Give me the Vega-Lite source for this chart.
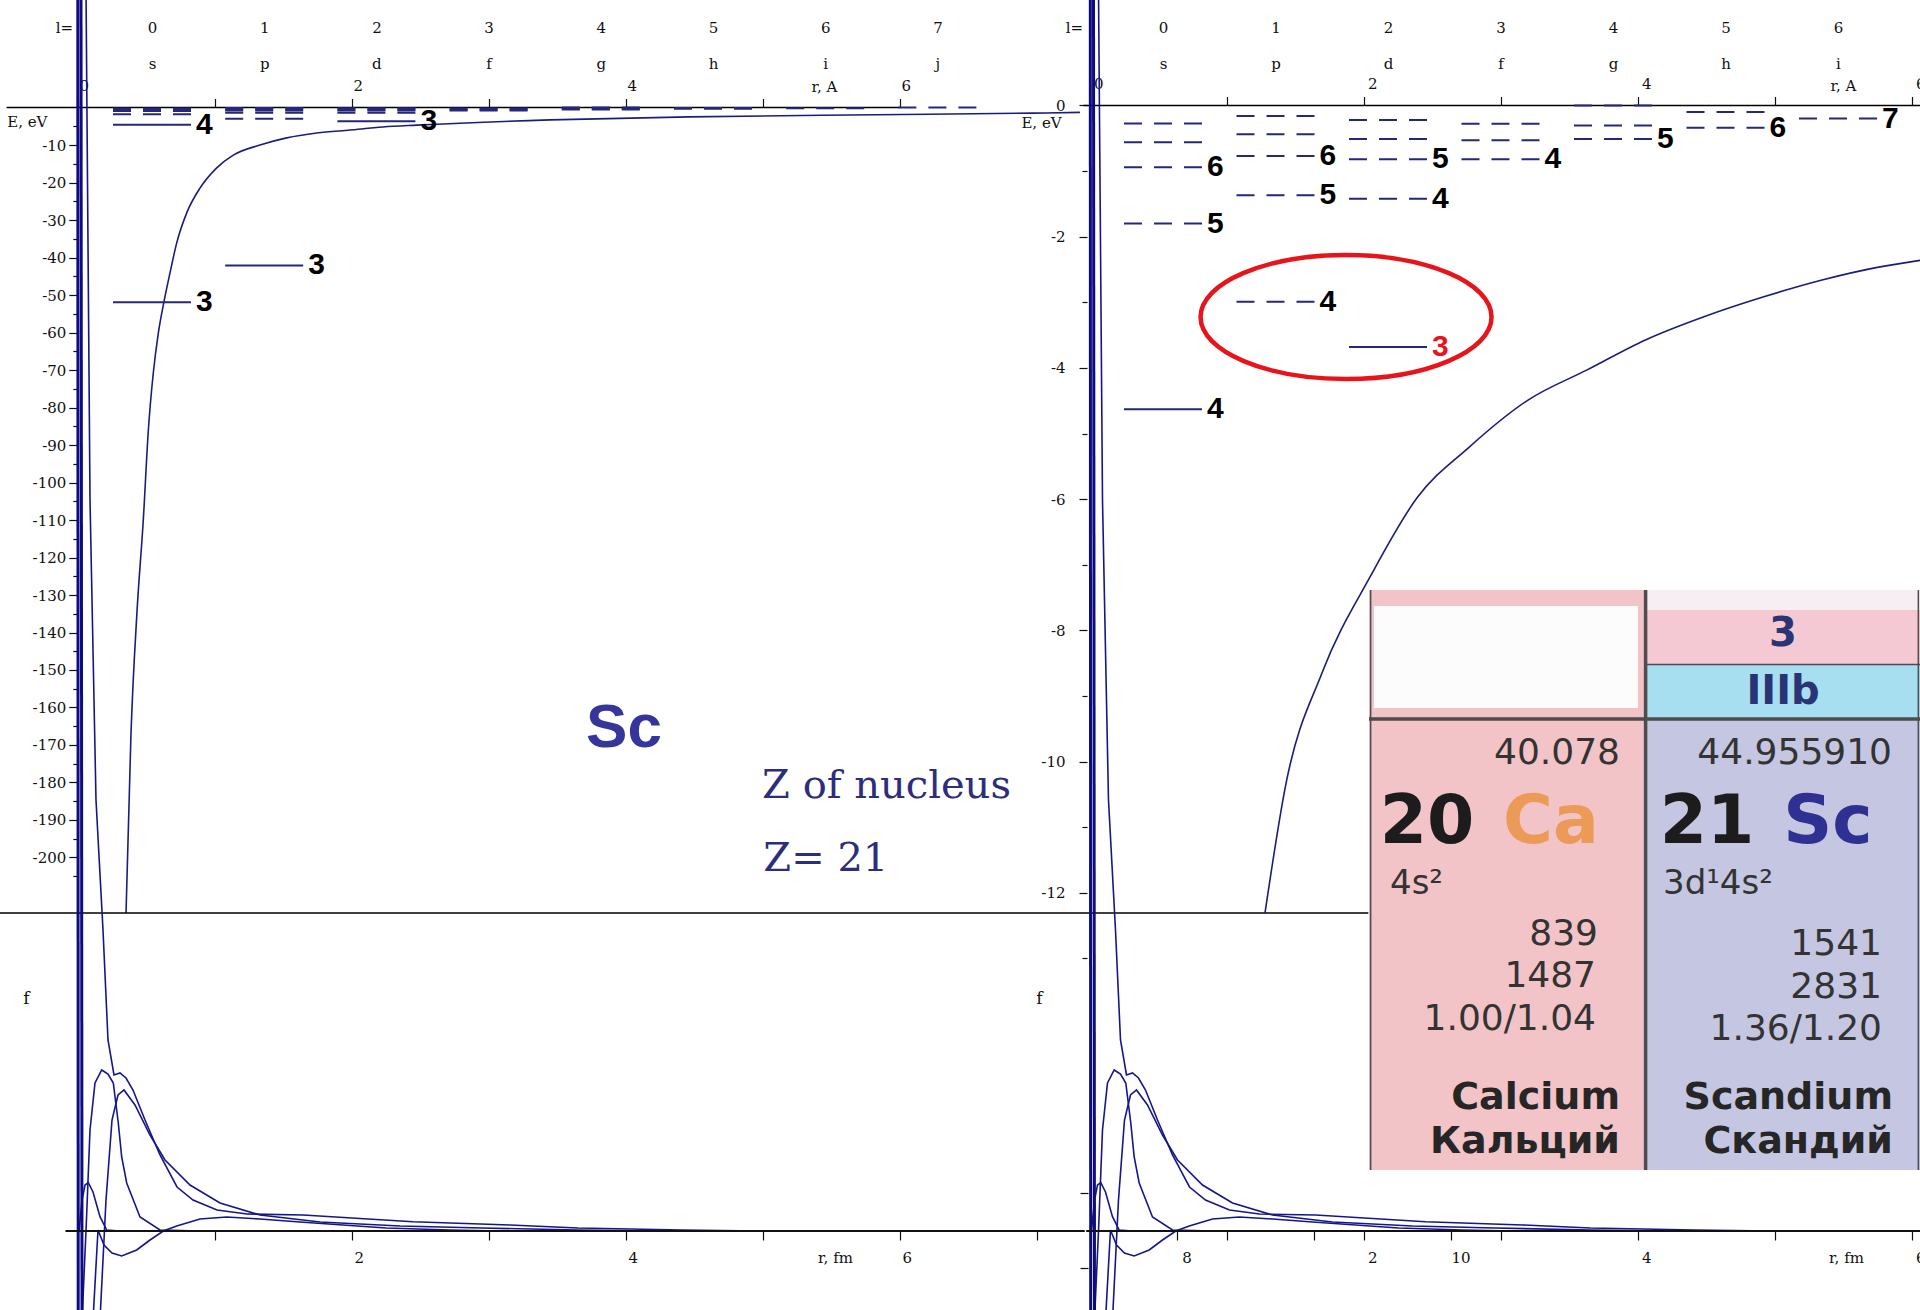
{
  "$schema": "https://vega.github.io/schema/vega-lite/v6.json",
  "width": 1920,
  "height": 1310,
  "autosize": {"type": "none"},
  "padding": 0,
  "background": "white",
  "config": {
    "view": {"stroke": null},
    "axis": {"labelFont": "DejaVu Serif", "titleFont": "DejaVu Serif", "labelFontSize": 15, "titleFontSize": 15, "titleFontWeight": "normal", "labelColor": "#111111", "titleColor": "#111111", "tickColor": "#111111", "domainColor": "#111111", "grid": false, "labelFlush": false, "labelOverlap": false, "tickWidth": 1.2}
  },
  "datasets": {
    "tl_potential": [
      {"r": 0.352, "E": -214.8}, {"r": 0.388, "E": -167.3}, {"r": 0.432, "E": -134.5}, {"r": 0.478, "E": -110.0},
      {"r": 0.515, "E": -86.0}, {"r": 0.551, "E": -70.8}, {"r": 0.588, "E": -60.1}, {"r": 0.624, "E": -52.7},
      {"r": 0.673, "E": -44.1}, {"r": 0.722, "E": -36.1}, {"r": 0.795, "E": -28.1}, {"r": 0.892, "E": -21.5},
      {"r": 1.014, "E": -16.1}, {"r": 1.135, "E": -12.7}, {"r": 1.33, "E": -10.0}, {"r": 1.525, "E": -8.1},
      {"r": 1.744, "E": -6.8}, {"r": 1.987, "E": -6.0}, {"r": 2.228, "E": -5.2}, {"r": 2.474, "E": -4.7},
      {"r": 3.447, "E": -3.3}, {"r": 4.462, "E": -2.5}, {"r": 5.636, "E": -2.0}, {"r": 6.972, "E": -1.5}, {"r": 7.315, "E": -1.3}
    ],
    "tr_potential": [
      {"r": 1.275, "E": -12.31}, {"r": 1.428, "E": -10.34}, {"r": 1.691, "E": -8.65}, {"r": 2.049, "E": -7.16},
      {"r": 2.385, "E": -5.98}, {"r": 2.764, "E": -5.21}, {"r": 3.195, "E": -4.49}, {"r": 3.626, "E": -4.03},
      {"r": 4.056, "E": -3.57}, {"r": 4.479, "E": -3.22}, {"r": 4.91, "E": -2.92}, {"r": 5.341, "E": -2.66},
      {"r": 5.764, "E": -2.46}, {"r": 6.056, "E": -2.36}
    ],
    "tl_levels": [
      {"l": 0, "n": 8, "E": -0.275, "state": "empty", "label": ""},
      {"l": 0, "n": 7, "E": -0.56, "state": "empty", "label": ""},
      {"l": 0, "n": 6, "E": -0.94, "state": "empty", "label": ""},
      {"l": 0, "n": 5, "E": -1.8, "state": "empty", "label": ""},
      {"l": 0, "n": 4, "E": -4.63, "state": "occupied", "label": "4"},
      {"l": 0, "n": 3, "E": -51.9, "state": "occupied", "label": "3"},
      {"l": 1, "n": 8, "E": -0.16, "state": "empty", "label": ""},
      {"l": 1, "n": 7, "E": -0.44, "state": "empty", "label": ""},
      {"l": 1, "n": 6, "E": -0.77, "state": "empty", "label": ""},
      {"l": 1, "n": 5, "E": -1.37, "state": "empty", "label": ""},
      {"l": 1, "n": 4, "E": -2.99, "state": "empty", "label": ""},
      {"l": 1, "n": 3, "E": -42.1, "state": "occupied", "label": "3"},
      {"l": 2, "n": 7, "E": -0.22, "state": "empty", "label": ""},
      {"l": 2, "n": 6, "E": -0.51, "state": "empty", "label": ""},
      {"l": 2, "n": 5, "E": -0.82, "state": "empty", "label": ""},
      {"l": 2, "n": 4, "E": -1.42, "state": "empty", "label": ""},
      {"l": 2, "n": 3, "E": -3.68, "state": "occupied", "label": "3"},
      {"l": 3, "n": 6, "E": -0.28, "state": "empty", "label": ""},
      {"l": 3, "n": 5, "E": -0.53, "state": "empty", "label": ""},
      {"l": 3, "n": 4, "E": -0.82, "state": "empty", "label": ""},
      {"l": 4, "n": 7, "E": 0.0, "state": "empty", "label": ""},
      {"l": 4, "n": 6, "E": -0.305, "state": "empty", "label": ""},
      {"l": 4, "n": 5, "E": -0.51, "state": "empty", "label": ""},
      {"l": 5, "n": 7, "E": -0.1, "state": "empty", "label": ""},
      {"l": 5, "n": 6, "E": -0.34, "state": "empty", "label": ""},
      {"l": 6, "n": 7, "E": -0.2, "state": "empty", "label": ""},
      {"l": 7, "n": 8, "E": 0.0, "state": "empty", "label": ""}
    ],
    "tr_levels": [
      {"l": 0, "n": 8, "E": -0.275, "state": "empty", "label": ""},
      {"l": 0, "n": 7, "E": -0.56, "state": "empty", "label": ""},
      {"l": 0, "n": 6, "E": -0.94, "state": "empty", "label": "6"},
      {"l": 0, "n": 5, "E": -1.8, "state": "empty", "label": "5"},
      {"l": 0, "n": 4, "E": -4.63, "state": "occupied", "label": "4"},
      {"l": 1, "n": 8, "E": -0.16, "state": "empty", "label": ""},
      {"l": 1, "n": 7, "E": -0.44, "state": "empty", "label": ""},
      {"l": 1, "n": 6, "E": -0.77, "state": "empty", "label": "6"},
      {"l": 1, "n": 5, "E": -1.37, "state": "empty", "label": "5"},
      {"l": 1, "n": 4, "E": -2.99, "state": "empty", "label": "4"},
      {"l": 2, "n": 7, "E": -0.22, "state": "empty", "label": ""},
      {"l": 2, "n": 6, "E": -0.51, "state": "empty", "label": ""},
      {"l": 2, "n": 5, "E": -0.82, "state": "empty", "label": "5"},
      {"l": 2, "n": 4, "E": -1.42, "state": "empty", "label": "4"},
      {"l": 2, "n": 3, "E": -3.68, "state": "occupied", "label": "3"},
      {"l": 3, "n": 6, "E": -0.28, "state": "empty", "label": ""},
      {"l": 3, "n": 5, "E": -0.53, "state": "empty", "label": ""},
      {"l": 3, "n": 4, "E": -0.82, "state": "empty", "label": "4"},
      {"l": 4, "n": 7, "E": 0.0, "state": "empty", "label": ""},
      {"l": 4, "n": 6, "E": -0.305, "state": "empty", "label": ""},
      {"l": 4, "n": 5, "E": -0.51, "state": "empty", "label": "5"},
      {"l": 5, "n": 7, "E": -0.1, "state": "empty", "label": ""},
      {"l": 5, "n": 6, "E": -0.34, "state": "empty", "label": "6"},
      {"l": 6, "n": 7, "E": -0.2, "state": "empty", "label": "7"}
    ],
    "wf": [
      {"curve": "A", "r": 0.0088, "f": 0}, {"curve": "A", "r": 0.0307, "f": 0.31}, {"curve": "A", "r": 0.0526, "f": 0.46},
      {"curve": "A", "r": 0.0766, "f": 0.483}, {"curve": "A", "r": 0.111, "f": 0.39}, {"curve": "A", "r": 0.162, "f": 0.143},
      {"curve": "A", "r": 0.211, "f": 0.01}, {"curve": "A", "r": 0.308, "f": 0},
      {"curve": "B", "r": 0.0307, "f": -0.89}, {"curve": "B", "r": 0.0599, "f": 0}, {"curve": "B", "r": 0.0891, "f": 1.01},
      {"curve": "B", "r": 0.1255, "f": 1.48}, {"curve": "B", "r": 0.1745, "f": 1.61}, {"curve": "B", "r": 0.2204, "f": 1.57},
      {"curve": "B", "r": 0.2591, "f": 1.48}, {"curve": "B", "r": 0.2956, "f": 1.08}, {"curve": "B", "r": 0.3204, "f": 0.74},
      {"curve": "B", "r": 0.3569, "f": 0.48}, {"curve": "B", "r": 0.454, "f": 0.14}, {"curve": "B", "r": 0.6, "f": 0.01},
      {"curve": "B", "r": 0.892, "f": 0},
      {"curve": "C", "r": 0.0599, "f": 12.41}, {"curve": "C", "r": 0.0891, "f": 7.31}, {"curve": "C", "r": 0.1328, "f": 4.31},
      {"curve": "C", "r": 0.1839, "f": 3.01}, {"curve": "C", "r": 0.2204, "f": 1.91}, {"curve": "C", "r": 0.2642, "f": 1.56},
      {"curve": "C", "r": 0.308, "f": 1.58}, {"curve": "C", "r": 0.3518, "f": 1.53}, {"curve": "C", "r": 0.4029, "f": 1.41},
      {"curve": "C", "r": 0.4905, "f": 1.11}, {"curve": "C", "r": 0.6, "f": 0.76}, {"curve": "C", "r": 0.7241, "f": 0.44},
      {"curve": "C", "r": 0.8409, "f": 0.31}, {"curve": "C", "r": 1.016, "f": 0.21}, {"curve": "C", "r": 1.235, "f": 0.17},
      {"curve": "C", "r": 1.644, "f": 0.16}, {"curve": "C", "r": 2.447, "f": 0.093}, {"curve": "C", "r": 3.155, "f": 0.06},
      {"curve": "C", "r": 3.651, "f": 0.03}, {"curve": "C", "r": 4.41, "f": 0.01}, {"curve": "C", "r": 4.98, "f": 0},
      {"curve": "D", "r": 0.162, "f": -0.89}, {"curve": "D", "r": 0.2058, "f": 0.31}, {"curve": "D", "r": 0.2496, "f": 1.11},
      {"curve": "D", "r": 0.2934, "f": 1.36}, {"curve": "D", "r": 0.3372, "f": 1.41}, {"curve": "D", "r": 0.4175, "f": 1.26},
      {"curve": "D", "r": 0.527, "f": 0.96}, {"curve": "D", "r": 0.6365, "f": 0.71}, {"curve": "D", "r": 0.819, "f": 0.46},
      {"curve": "D", "r": 1.038, "f": 0.28}, {"curve": "D", "r": 1.33, "f": 0.16}, {"curve": "D", "r": 1.768, "f": 0.09},
      {"curve": "D", "r": 2.352, "f": 0.05}, {"curve": "D", "r": 2.95, "f": 0.03}, {"curve": "D", "r": 3.651, "f": 0.01},
      {"curve": "D", "r": 4.177, "f": 0},
      {"curve": "E", "r": 0.111, "f": -0.89}, {"curve": "E", "r": 0.1474, "f": 0.01}, {"curve": "E", "r": 0.1912, "f": -0.14},
      {"curve": "E", "r": 0.2496, "f": -0.22}, {"curve": "E", "r": 0.3204, "f": -0.25}, {"curve": "E", "r": 0.4299, "f": -0.19},
      {"curve": "E", "r": 0.527, "f": -0.09}, {"curve": "E", "r": 0.6241, "f": 0}, {"curve": "E", "r": 0.7219, "f": 0.05},
      {"curve": "E", "r": 0.892, "f": 0.12}, {"curve": "E", "r": 1.087, "f": 0.14}, {"curve": "E", "r": 1.33, "f": 0.12},
      {"curve": "E", "r": 1.622, "f": 0.09}, {"curve": "E", "r": 2.25, "f": 0.03}, {"curve": "E", "r": 2.717, "f": 0.01},
      {"curve": "E", "r": 3.082, "f": 0}
    ],
    "wf_core": [
      {"curve": "core1", "r": 0.0, "f": 12.41}, {"curve": "core1", "r": 0.003, "f": -0.89},
      {"curve": "core2", "r": 0.0234, "f": 12.41}, {"curve": "core2", "r": 0.0307, "f": -0.89}
    ],
    "annotations": [
      {"kind": "element", "text": "Sc", "r": 3.987, "E": -165.6},
      {"kind": "caption", "text": "Z of nucleus", "r": 5.903, "E": -180.9},
      {"kind": "caption", "text": "Z= 21", "r": 5.46, "E": -200.3}
    ],
    "cells": [
      {"part": "Ca body", "u0": 0, "u1": 0.502, "v0": 0, "v1": 1},
      {"part": "Ca header", "u0": 0.009, "u1": 0.488, "v0": 0.0276, "v1": 0.2034},
      {"part": "Sc top", "u0": 0.502, "u1": 1, "v0": 0, "v1": 0.0345},
      {"part": "Sc group", "u0": 0.502, "u1": 1, "v0": 0.0345, "v1": 0.1285},
      {"part": "Sc subgroup", "u0": 0.502, "u1": 1, "v0": 0.1285, "v1": 0.2224},
      {"part": "Sc body", "u0": 0.502, "u1": 1, "v0": 0.2224, "v1": 1}
    ],
    "borders": [
      {"u0": 0, "u1": 1, "v0": 0.2224, "v1": 0.2224, "weight": "thick"},
      {"u0": 0.502, "u1": 1, "v0": 0.1285, "v1": 0.1285, "weight": "thin"},
      {"u0": 0.502, "u1": 0.502, "v0": 0, "v1": 1, "weight": "thick"},
      {"u0": 0.003, "u1": 0.003, "v0": 0, "v1": 1, "weight": "thin"},
      {"u0": 0.997, "u1": 0.997, "v0": 0, "v1": 1, "weight": "thin"}
    ],
    "inset_text": [
      {"elem": "Sc", "role": "header", "text": "3", "u": 0.7514, "v": 0.0759},
      {"elem": "Sc", "role": "header", "text": "IIIb", "u": 0.7514, "v": 0.1759},
      {"elem": "Ca", "role": "mass", "text": "40.078", "u": 0.4555, "v": 0.281},
      {"elem": "Sc", "role": "mass", "text": "44.955910", "u": 0.9492, "v": 0.281},
      {"elem": "Ca", "role": "number", "text": "20", "u": 0.1053, "v": 0.4017},
      {"elem": "Sc", "role": "number", "text": "21", "u": 0.6134, "v": 0.4017},
      {"elem": "Ca", "role": "symbol", "text": "Ca", "u": 0.3303, "v": 0.4017},
      {"elem": "Sc", "role": "symbol", "text": "Sc", "u": 0.833, "v": 0.4017},
      {"elem": "Ca", "role": "config", "text": "4s²", "u": 0.0381, "v": 0.5069},
      {"elem": "Sc", "role": "config", "text": "3d¹4s²", "u": 0.5336, "v": 0.5069},
      {"elem": "Ca", "role": "prop", "text": "839", "u": 0.4156, "v": 0.5931},
      {"elem": "Ca", "role": "prop", "text": "1487", "u": 0.412, "v": 0.6655},
      {"elem": "Ca", "role": "prop", "text": "1.00/1.04", "u": 0.412, "v": 0.7397},
      {"elem": "Sc", "role": "prop", "text": "1541", "u": 0.931, "v": 0.6103},
      {"elem": "Sc", "role": "prop", "text": "2831", "u": 0.931, "v": 0.6845},
      {"elem": "Sc", "role": "prop", "text": "1.36/1.20", "u": 0.931, "v": 0.7569},
      {"elem": "Ca", "role": "name", "text": "Calcium", "u": 0.4555, "v": 0.8759},
      {"elem": "Ca", "role": "name", "text": "Кальций", "u": 0.4555, "v": 0.9517},
      {"elem": "Sc", "role": "name", "text": "Scandium", "u": 0.951, "v": 0.8759},
      {"elem": "Sc", "role": "name", "text": "Скандий", "u": 0.951, "v": 0.9517}
    ]
  },
  "layer": [
    {
      "layer": [
        {
          "data": {"name": "tl_potential"},
          "mark": {"type": "line", "color": "#1c1c7c", "strokeWidth": 1.6, "interpolate": "monotone"},
          "encoding": {
            "x": {"field": "r", "type": "quantitative", "scale": {"domain": [-0.5679, 13.4467], "nice": false, "zero": false},
              "axis": {"orient": "top", "offset": -107.5, "values": [0, 1, 2, 3, 4, 5, 6], "format": "d", "labelExpr": "datum.value % 2 == 0 ? datum.label : ''", "tickSize": 9, "labelPadding": 5, "labelOffset": 6, "labelFontSize": 15, "labelOverlap": false, "domain": false, "title": "r, A", "titleX": 824, "titleY": -21, "titleAngle": 0, "titleAlign": "center", "titleBaseline": "middle"}},
            "y": {"field": "E", "type": "quantitative", "scale": {"domain": [-320.67, 28.67], "nice": false, "zero": false},
              "axis": {"orient": "left", "offset": -77.8, "values": [-200, -190, -180, -170, -160, -150, -140, -130, -120, -110, -100, -90, -80, -70, -60, -50, -40, -30, -20, -10], "labelExpr": "'-' + (-datum.value)", "tickSize": 9, "labelPadding": 3, "labelFontSize": 15, "labelOverlap": false, "domain": false, "title": "E, eV", "titleX": -51, "titleY": 121, "titleAngle": 0, "titleAlign": "center", "titleBaseline": "middle"}}
          }
        },
        {
          "data": {"values": [{}]},
          "mark": {"type": "rule", "color": "#000000", "strokeWidth": 1.5},
          "encoding": {
            "x": {"datum": -0.52, "type": "quantitative", "scale": {"domain": [-0.5679, 13.4467], "nice": false, "zero": false}},
            "x2": {"datum": 6.0},
            "y": {"datum": 0, "type": "quantitative", "scale": {"domain": [-320.67, 28.67], "nice": false, "zero": false}}
          }
        },
        {
          "data": {"values": [{}]},
          "mark": {"type": "rule", "color": "#000000", "strokeWidth": 1.5},
          "encoding": {
            "x": {"datum": -0.57, "type": "quantitative", "scale": {"domain": [-0.5679, 13.4467], "nice": false, "zero": false}},
            "x2": {"datum": 9.42},
            "y": {"datum": -214.8, "type": "quantitative", "scale": {"domain": [-320.67, 28.67], "nice": false, "zero": false}}
          }
        },
        {
          "data": {"name": "annotations"},
          "transform": [{"filter": "datum.kind == 'element'"}],
          "mark": {"type": "text", "font": "Liberation Sans", "fontWeight": "bold", "fontSize": 62, "color": "#35359b", "align": "center", "baseline": "middle"},
          "encoding": {
            "x": {"field": "r", "type": "quantitative", "scale": {"domain": [-0.5679, 13.4467], "nice": false, "zero": false}},
            "y": {"field": "E", "type": "quantitative", "scale": {"domain": [-320.67, 28.67], "nice": false, "zero": false}},
            "text": {"field": "text"}
          }
        },
        {
          "data": {"name": "annotations"},
          "transform": [{"filter": "datum.kind == 'caption'"}],
          "mark": {"type": "text", "font": "DejaVu Serif", "fontSize": 40, "color": "#2d2d7d", "align": "center", "baseline": "middle"},
          "encoding": {
            "x": {"field": "r", "type": "quantitative", "scale": {"domain": [-0.5679, 13.4467], "nice": false, "zero": false}},
            "y": {"field": "E", "type": "quantitative", "scale": {"domain": [-320.67, 28.67], "nice": false, "zero": false}},
            "text": {"field": "text"}
          }
        }
      ]
    },
    {
      "data": {"name": "tl_levels"},
      "layer": [
        {
          "mark": {"type": "point", "shape": "M -1 0 L 1 0", "size": 6084, "filled": false, "strokeWidth": 2, "opacity": 1, "color": "#26267a"},
          "encoding": {
            "x": {"field": "l", "type": "quantitative", "scale": {"domain": [-1.3547, 15.7576], "nice": false, "zero": false},
              "axis": {"orient": "top", "offset": -107.5, "values": [0, 1, 2, 3, 4, 5, 6, 7], "format": "d", "ticks": false, "tickSize": 0, "domain": false, "labelExpr": "[datum.label, ['s','p','d','f','g','h','i','j'][datum.value]]", "labelLineHeight": 36, "labelBaseline": "middle", "labelPadding": 80.5, "labelFontSize": 15, "labelOverlap": false, "title": "l=", "titleX": 64, "titleY": -80.5, "titleAngle": 0, "titleAlign": "center", "titleBaseline": "middle"}},
            "y": {"field": "E", "type": "quantitative", "scale": {"domain": [-320.67, 28.67], "nice": false, "zero": false},
              "axis": {"orient": "left", "offset": -77.8, "values": [-205, -195, -185, -175, -165, -155, -145, -135, -125, -115, -105, -95, -85, -75, -65, -55, -45, -35, -25, -15, -5], "tickSize": 5, "labels": false, "domain": false, "title": null}},
            "strokeDash": {"field": "state", "type": "nominal", "scale": {"domain": ["occupied", "empty"], "range": [[1, 0], [18, 12]]}, "legend": null}
          }
        },
        {
          "mark": {"type": "text", "align": "left", "baseline": "middle", "dx": 44, "font": "Liberation Sans", "fontWeight": "bold", "fontSize": 30, "color": "#000000"},
          "encoding": {
            "x": {"field": "l", "type": "quantitative", "scale": {"domain": [-1.3547, 15.7576], "nice": false, "zero": false}},
            "y": {"field": "E", "type": "quantitative", "scale": {"domain": [-320.67, 28.67], "nice": false, "zero": false}},
            "text": {"field": "label"}
          }
        }
      ]
    },
    {
      "layer": [
        {
          "data": {"name": "tr_potential"},
          "mark": {"type": "line", "color": "#1c1c7c", "strokeWidth": 1.6, "interpolate": "monotone"},
          "encoding": {
            "x": {"field": "r", "type": "quantitative", "scale": {"domain": [-7.958, 6.056], "nice": false, "zero": false},
              "axis": {"orient": "top", "offset": -105.5, "values": [0, 1, 2, 3, 4, 5, 6], "format": "d", "labelExpr": "datum.value % 2 == 0 ? datum.label : ''", "tickSize": 9, "labelPadding": 5, "labelOffset": 8, "labelFontSize": 15, "labelOverlap": false, "domain": false, "title": "r, A", "titleX": 1843, "titleY": -20, "titleAngle": 0, "titleAlign": "center", "titleBaseline": "middle"}},
            "y": {"field": "E", "type": "quantitative", "scale": {"domain": [-18.36, 1.608], "nice": false, "zero": false},
              "axis": {"orient": "left", "offset": -1087, "values": [-13, -12, -11, -10, -9, -8, -7, -6, -5, -4, -3, -2, -1, 0], "labelExpr": "datum.value % 2 == 0 ? (datum.value == 0 ? '0' : '-' + (-datum.value)) : ''", "tickSize": {"condition": {"test": "datum.value % 2 == 0", "value": 8}, "value": 5}, "labelPadding": 14, "labelFontSize": 15, "labelOverlap": false, "domain": false, "title": "E, eV", "titleX": -46, "titleY": 122, "titleAngle": 0, "titleAlign": "center", "titleBaseline": "middle"}}
          }
        },
        {
          "data": {"values": [{}]},
          "mark": {"type": "rule", "color": "#000000", "strokeWidth": 1.5},
          "encoding": {
            "x": {"datum": -0.05, "type": "quantitative", "scale": {"domain": [-7.958, 6.056], "nice": false, "zero": false}},
            "x2": {"datum": 6.2},
            "y": {"datum": 0, "type": "quantitative", "scale": {"domain": [-18.36, 1.608], "nice": false, "zero": false}}
          }
        }
      ]
    },
    {
      "layer": [
        {
          "data": {"name": "tr_levels"},
          "mark": {"type": "point", "shape": "M -1 0 L 1 0", "size": 6084, "filled": false, "strokeWidth": 2, "opacity": 1, "color": "#26267a"},
          "encoding": {
            "x": {"field": "l", "type": "quantitative", "scale": {"domain": [-10.3378, 6.7289], "nice": false, "zero": false},
              "axis": {"orient": "top", "offset": -105.5, "values": [0, 1, 2, 3, 4, 5, 6], "format": "d", "ticks": false, "tickSize": 0, "domain": false, "labelExpr": "[datum.label, ['s','p','d','f','g','h','i','j'][datum.value]]", "labelLineHeight": 36, "labelBaseline": "middle", "labelPadding": 78.5, "labelFontSize": 15, "labelOverlap": false, "title": "l=", "titleX": 1074, "titleY": -78.5, "titleAngle": 0, "titleAlign": "center", "titleBaseline": "middle"}},
            "y": {"field": "E", "type": "quantitative", "scale": {"domain": [-18.36, 1.608], "nice": false, "zero": false}, "axis": null},
            "strokeDash": {"field": "state", "type": "nominal", "scale": {"domain": ["occupied", "empty"], "range": [[1, 0], [18, 12]]}, "legend": null}
          }
        },
        {
          "data": {"name": "tr_levels"},
          "mark": {"type": "text", "align": "left", "baseline": "middle", "dx": 44, "font": "Liberation Sans", "fontWeight": "bold", "fontSize": 30},
          "encoding": {
            "x": {"field": "l", "type": "quantitative", "scale": {"domain": [-10.3378, 6.7289], "nice": false, "zero": false}},
            "y": {"field": "E", "type": "quantitative", "scale": {"domain": [-18.36, 1.608], "nice": false, "zero": false}, "axis": null},
            "text": {"field": "label"},
            "color": {"condition": {"test": "datum.n == 3", "value": "#e8141c"}, "value": "#000000"}
          }
        },
        {
          "data": {"values": [{}]},
          "mark": {"type": "point", "shape": "M -1 0 A 1 0.426 0 1 0 1 0 A 1 0.426 0 1 0 -1 0 Z", "size": 84681, "filled": false, "strokeWidth": 4.5, "opacity": 1, "color": "#e8141c"},
          "encoding": {
            "x": {"datum": 1.627, "type": "quantitative", "scale": {"domain": [-10.3378, 6.7289], "nice": false, "zero": false}},
            "y": {"datum": -3.224, "type": "quantitative", "scale": {"domain": [-18.36, 1.608], "nice": false, "zero": false}, "axis": null}
          }
        }
      ]
    },
    {
      "layer": [
        {
          "data": {"name": "wf"},
          "mark": {"type": "line", "color": "#16168a", "strokeWidth": 1.6},
          "encoding": {
            "x": {"field": "r", "type": "quantitative", "scale": {"domain": [-0.5679, 13.4467], "nice": false, "zero": false},
              "axis": {"orient": "bottom", "offset": -79, "values": [1, 2, 3, 4, 5, 6, 7], "format": "d", "labelExpr": "datum.value % 2 == 0 ? datum.label : ''", "tickSize": 9, "labelPadding": 10, "labelOffset": 7, "labelFontSize": 15, "labelOverlap": false, "domain": false, "title": "r, fm", "titleX": 835, "titleY": 26, "titleAngle": 0, "titleAlign": "center", "titleBaseline": "middle"}},
            "y": {"field": "f", "type": "quantitative", "scale": {"domain": [-0.79, 12.31], "nice": false, "zero": false},
              "axis": {"orient": "left", "offset": -77.8, "ticks": false, "labels": false, "domain": false, "title": "f", "titleX": -52, "titleY": 998, "titleAngle": 0, "titleFontSize": 17, "titleAlign": "center", "titleBaseline": "middle"}},
            "detail": {"field": "curve"}
          }
        },
        {
          "data": {"name": "wf_core"},
          "mark": {"type": "line", "color": "#0c0c80", "strokeWidth": 3},
          "encoding": {
            "x": {"field": "r", "type": "quantitative", "scale": {"domain": [-0.5679, 13.4467], "nice": false, "zero": false}},
            "y": {"field": "f", "type": "quantitative", "scale": {"domain": [-0.79, 12.31], "nice": false, "zero": false}},
            "detail": {"field": "curve"}
          }
        },
        {
          "data": {"values": [{}]},
          "mark": {"type": "rule", "color": "#111111", "strokeWidth": 2},
          "encoding": {
            "x": {"datum": -0.09, "type": "quantitative", "scale": {"domain": [-0.5679, 13.4467], "nice": false, "zero": false}},
            "x2": {"datum": 7.35},
            "y": {"datum": 0, "type": "quantitative", "scale": {"domain": [-0.79, 12.31], "nice": false, "zero": false}}
          }
        }
      ]
    },
    {
      "layer": [
        {
          "data": {"name": "wf"},
          "mark": {"type": "line", "color": "#16168a", "strokeWidth": 1.6},
          "encoding": {
            "x": {"field": "r", "type": "quantitative", "scale": {"domain": [-7.958, 6.056], "nice": false, "zero": false},
              "axis": {"orient": "bottom", "offset": -79, "values": [1, 2, 3, 4, 5, 6], "format": "d", "labelExpr": "datum.value % 2 == 0 ? datum.label : ''", "tickSize": 9, "labelPadding": 10, "labelOffset": 8, "labelFontSize": 15, "labelOverlap": false, "domain": false, "title": "r, fm", "titleX": 1846, "titleY": 26, "titleAngle": 0, "titleAlign": "center", "titleBaseline": "middle"}},
            "y": {"field": "f", "type": "quantitative", "scale": {"domain": [-0.79, 12.31], "nice": false, "zero": false},
              "axis": {"orient": "left", "offset": -1088, "values": [0.38, -0.37], "tickSize": 8, "labels": false, "domain": false, "title": "f", "titleX": -49, "titleY": 998, "titleAngle": 0, "titleFontSize": 17, "titleAlign": "center", "titleBaseline": "middle"}},
            "detail": {"field": "curve"}
          }
        },
        {
          "data": {"name": "wf_core"},
          "mark": {"type": "line", "color": "#0c0c80", "strokeWidth": 3},
          "encoding": {
            "x": {"field": "r", "type": "quantitative", "scale": {"domain": [-7.958, 6.056], "nice": false, "zero": false}},
            "y": {"field": "f", "type": "quantitative", "scale": {"domain": [-0.79, 12.31], "nice": false, "zero": false}},
            "detail": {"field": "curve"}
          }
        },
        {
          "data": {"values": [{}]},
          "mark": {"type": "rule", "color": "#111111", "strokeWidth": 2},
          "encoding": {
            "x": {"datum": -0.03, "type": "quantitative", "scale": {"domain": [-7.958, 6.056], "nice": false, "zero": false}},
            "x2": {"datum": 6.2},
            "y": {"datum": 0, "type": "quantitative", "scale": {"domain": [-0.79, 12.31], "nice": false, "zero": false}}
          }
        }
      ]
    },
    {
      "data": {"values": [{"v": 8}, {"v": 9}, {"v": 10}]},
      "mark": {"type": "rule", "strokeOpacity": 0},
      "encoding": {
        "x": {"field": "v", "type": "quantitative", "scale": {"domain": [-0.5876, 13.427], "nice": false, "zero": false},
          "axis": {"orient": "bottom", "offset": -79, "values": [8, 9, 10], "format": "d", "labelExpr": "datum.value == 9 ? '' : datum.label", "tickSize": 9, "labelPadding": 10, "labelOffset": 10, "labelFontSize": 15, "labelOverlap": false, "domain": false, "title": null}}
      }
    },
    {
      "layer": [
        {
          "data": {"name": "cells"},
          "mark": {"type": "rect"},
          "encoding": {
            "x": {"field": "u0", "type": "quantitative", "scale": {"domain": [-2.4846, 1.0], "nice": false, "zero": false}, "axis": null},
            "x2": {"field": "u1"},
            "y": {"field": "v0", "type": "quantitative", "scale": {"domain": [-1.0172, 1.2414], "nice": false, "zero": false, "reverse": true}, "axis": null},
            "y2": {"field": "v1"},
            "color": {"field": "part", "type": "nominal", "scale": {"domain": ["Ca body", "Ca header", "Sc top", "Sc group", "Sc subgroup", "Sc body"], "range": ["#f2c3c7", "#fdfcfc", "#f7eef3", "#f4c9d3", "#a7def0", "#c4c6e2"]}, "legend": null}
          }
        },
        {
          "data": {"name": "borders"},
          "mark": {"type": "rule", "color": "#4d4d4d"},
          "encoding": {
            "x": {"field": "u0", "type": "quantitative", "scale": {"domain": [-2.4846, 1.0], "nice": false, "zero": false}, "axis": null},
            "x2": {"field": "u1"},
            "y": {"field": "v0", "type": "quantitative", "scale": {"domain": [-1.0172, 1.2414], "nice": false, "zero": false, "reverse": true}, "axis": null},
            "y2": {"field": "v1"},
            "strokeWidth": {"field": "weight", "type": "nominal", "scale": {"domain": ["thick", "thin"], "range": [3.5, 1.5]}, "legend": null}
          }
        },
        {
          "data": {"name": "inset_text"},
          "transform": [{"filter": "datum.role == 'header'"}],
          "mark": {"type": "text", "font": "DejaVu Sans", "fontWeight": "bold", "fontSize": 40, "color": "#2a3475", "align": "center", "baseline": "middle"},
          "encoding": {
            "x": {"field": "u", "type": "quantitative", "scale": {"domain": [-2.4846, 1.0], "nice": false, "zero": false}, "axis": null},
            "y": {"field": "v", "type": "quantitative", "scale": {"domain": [-1.0172, 1.2414], "nice": false, "zero": false, "reverse": true}, "axis": null},
            "text": {"field": "text"}
          }
        },
        {
          "data": {"name": "inset_text"},
          "transform": [{"filter": "datum.role == 'mass' || datum.role == 'prop'"}],
          "mark": {"type": "text", "font": "DejaVu Sans", "fontSize": 36, "color": "#333333", "align": "right", "baseline": "middle"},
          "encoding": {
            "x": {"field": "u", "type": "quantitative", "scale": {"domain": [-2.4846, 1.0], "nice": false, "zero": false}, "axis": null},
            "y": {"field": "v", "type": "quantitative", "scale": {"domain": [-1.0172, 1.2414], "nice": false, "zero": false, "reverse": true}, "axis": null},
            "text": {"field": "text"}
          }
        },
        {
          "data": {"name": "inset_text"},
          "transform": [{"filter": "datum.role == 'number'"}],
          "mark": {"type": "text", "font": "DejaVu Sans", "fontWeight": "bold", "fontSize": 68, "color": "#1c1c1c", "align": "center", "baseline": "middle"},
          "encoding": {
            "x": {"field": "u", "type": "quantitative", "scale": {"domain": [-2.4846, 1.0], "nice": false, "zero": false}, "axis": null},
            "y": {"field": "v", "type": "quantitative", "scale": {"domain": [-1.0172, 1.2414], "nice": false, "zero": false, "reverse": true}, "axis": null},
            "text": {"field": "text"}
          }
        },
        {
          "data": {"name": "inset_text"},
          "transform": [{"filter": "datum.role == 'symbol'"}],
          "mark": {"type": "text", "font": "DejaVu Sans", "fontWeight": "bold", "fontSize": 68, "align": "center", "baseline": "middle"},
          "encoding": {
            "x": {"field": "u", "type": "quantitative", "scale": {"domain": [-2.4846, 1.0], "nice": false, "zero": false}, "axis": null},
            "y": {"field": "v", "type": "quantitative", "scale": {"domain": [-1.0172, 1.2414], "nice": false, "zero": false, "reverse": true}, "axis": null},
            "text": {"field": "text"},
            "color": {"condition": {"test": "datum.elem == 'Ca'", "value": "#ec9a58"}, "value": "#2e3192"}
          }
        },
        {
          "data": {"name": "inset_text"},
          "transform": [{"filter": "datum.role == 'config'"}],
          "mark": {"type": "text", "font": "DejaVu Sans", "fontSize": 34, "color": "#333333", "align": "left", "baseline": "middle"},
          "encoding": {
            "x": {"field": "u", "type": "quantitative", "scale": {"domain": [-2.4846, 1.0], "nice": false, "zero": false}, "axis": null},
            "y": {"field": "v", "type": "quantitative", "scale": {"domain": [-1.0172, 1.2414], "nice": false, "zero": false, "reverse": true}, "axis": null},
            "text": {"field": "text"}
          }
        },
        {
          "data": {"name": "inset_text"},
          "transform": [{"filter": "datum.role == 'name'"}],
          "mark": {"type": "text", "font": "DejaVu Sans", "fontWeight": "bold", "fontSize": 38, "color": "#262626", "align": "right", "baseline": "middle"},
          "encoding": {
            "x": {"field": "u", "type": "quantitative", "scale": {"domain": [-2.4846, 1.0], "nice": false, "zero": false}, "axis": null},
            "y": {"field": "v", "type": "quantitative", "scale": {"domain": [-1.0172, 1.2414], "nice": false, "zero": false, "reverse": true}, "axis": null},
            "text": {"field": "text"}
          }
        }
      ]
    }
  ],
  "resolve": {"scale": {"x": "independent", "y": "independent", "color": "independent", "strokeDash": "independent", "strokeWidth": "independent"}}
}
